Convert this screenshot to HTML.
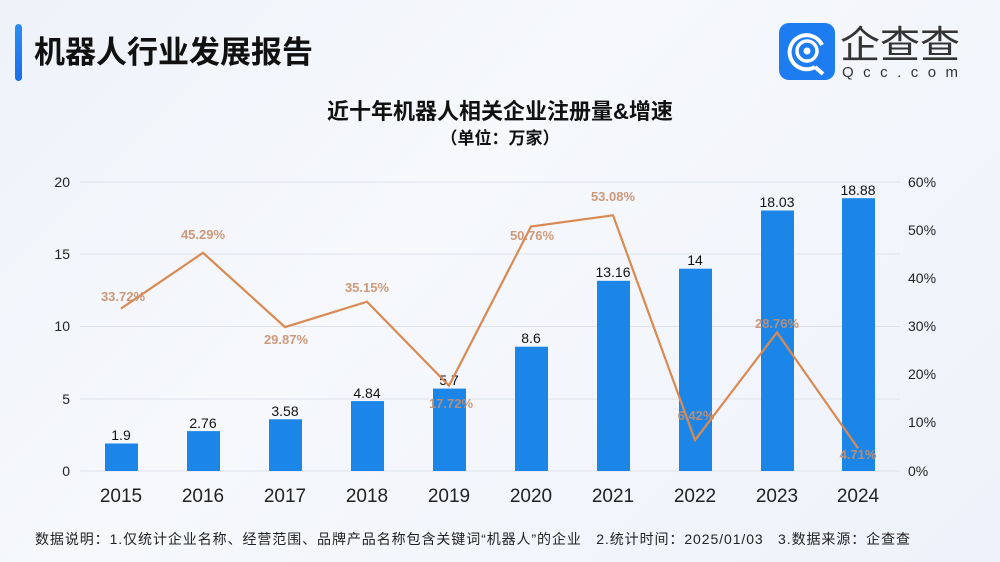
<!DOCTYPE html>
<html><head><meta charset="utf-8"><style>
body{margin:0;width:1000px;height:562px;overflow:hidden;background:linear-gradient(135deg,#eef2f9 0%,#f6f8fc 40%,#eef2fa 100%);font-family:"Liberation Sans","Noto Sans CJK SC",sans-serif;}
</style></head><body>
<svg width="1000" height="562" xmlns="http://www.w3.org/2000/svg" style="position:absolute;left:0;top:0;font-family:'Liberation Sans','Noto Sans CJK SC',sans-serif">
<defs><linearGradient id="bar" x1="0" y1="0" x2="0" y2="1"><stop offset="0" stop-color="#2a8df5"/><stop offset="1" stop-color="#1a6fe6"/></linearGradient></defs>
<rect x="15" y="24" width="7" height="57" rx="3.5" fill="url(#bar)"/>
<text x="34" y="63" font-size="31" font-weight="bold" fill="#111">机器人行业发展报告</text>
<rect x="779" y="23" width="56" height="57" rx="10" fill="#1d7cf0"/>
<path d="M822,45 A17,17 0 1 0 815,67" fill="none" stroke="#fff" stroke-width="4"/>
<path d="M815,67 L823,74" stroke="#fff" stroke-width="4"/>
<circle cx="807" cy="51" r="10" fill="none" stroke="#fff" stroke-width="3.5"/>
<circle cx="807" cy="51" r="3.5" fill="#fff"/>
<text x="840" y="58" font-size="38" fill="#333" textLength="120" lengthAdjust="spacingAndGlyphs" font-family="'Noto Sans CJK SC',sans-serif">企查查</text>
<text x="842" y="77" font-size="15" fill="#333" textLength="116">Qcc.com</text>
<text x="500" y="119" font-size="22" font-weight="bold" fill="#111" text-anchor="middle">近十年机器人相关企业注册量&amp;增速</text>
<text x="500" y="144" font-size="17" font-weight="bold" fill="#111" text-anchor="middle">（单位：万家）</text>
<g stroke="#dde2ea" stroke-width="1">
<line x1="80" y1="182" x2="900" y2="182"/><line x1="80" y1="254" x2="900" y2="254"/><line x1="80" y1="326.5" x2="900" y2="326.5"/><line x1="80" y1="399" x2="900" y2="399"/><line x1="80" y1="471" x2="900" y2="471"/>
</g>
<g font-size="14" fill="#222" text-anchor="end">
<text x="70" y="187">20</text><text x="70" y="259">15</text><text x="70" y="331">10</text><text x="70" y="404">5</text><text x="70" y="476">0</text>
</g>
<g font-size="14" fill="#222">
<text x="908" y="187">60%</text><text x="908" y="235">50%</text><text x="908" y="283">40%</text><text x="908" y="331">30%</text><text x="908" y="379">20%</text><text x="908" y="427">10%</text><text x="908" y="476">0%</text>
</g>
<g fill="#1b86e8">
<rect x="105" y="443.5" width="33" height="27.5"/>
<rect x="187" y="431.1" width="33" height="39.9"/>
<rect x="269" y="419.3" width="33" height="51.7"/>
<rect x="351" y="401.1" width="33" height="69.9"/>
<rect x="433" y="388.6" width="33" height="82.4"/>
<rect x="515" y="346.7" width="33" height="124.3"/>
<rect x="597" y="280.8" width="33" height="190.2"/>
<rect x="679" y="268.7" width="33" height="202.3"/>
<rect x="761" y="210.5" width="33" height="260.5"/>
<rect x="842" y="198.2" width="33" height="272.8"/>
</g>
<g font-size="14" fill="#111" text-anchor="middle">
<text x="121" y="440">1.9</text><text x="203" y="428">2.76</text><text x="285" y="416">3.58</text><text x="367" y="398">4.84</text><text x="449" y="385">5.7</text><text x="531" y="343">8.6</text><text x="613" y="277">13.16</text><text x="695" y="265">14</text><text x="777" y="207">18.03</text><text x="858" y="195">18.88</text>
</g>
<polyline fill="none" stroke="#d98a52" stroke-width="2.2" points="121,308.6 203,252.8 285,327.1 367,301.7 449,385.7 531,226.5 613,215.3 695,440.1 777,332.5 858,448.3"/>
<g font-size="13" font-weight="bold" fill="#c98e6a" fill-opacity="0.9" text-anchor="middle">
<text x="123" y="301">33.72%</text><text x="203" y="239">45.29%</text><text x="286" y="344">29.87%</text><text x="367" y="292">35.15%</text><text x="451" y="408">17.72%</text><text x="532" y="240">50.76%</text><text x="613" y="201">53.08%</text><text x="696" y="420">6.42%</text><text x="777" y="328">28.76%</text><text x="858" y="459">4.71%</text>
</g>
<g font-size="19" fill="#222" text-anchor="middle">
<text x="121" y="502">2015</text><text x="203" y="502">2016</text><text x="285" y="502">2017</text><text x="367" y="502">2018</text><text x="449" y="502">2019</text><text x="531" y="502">2020</text><text x="613" y="502">2021</text><text x="695" y="502">2022</text><text x="777" y="502">2023</text><text x="858" y="502">2024</text>
</g>
<text x="35" y="544" font-size="14" fill="#222" textLength="875" lengthAdjust="spacing">数据说明：1.仅统计企业名称、经营范围、品牌产品名称包含关键词“机器人”的企业&#160;&#160;&#160;2.统计时间：2025/01/03&#160;&#160;&#160;3.数据来源：企查查</text>
</svg>
</body></html>
